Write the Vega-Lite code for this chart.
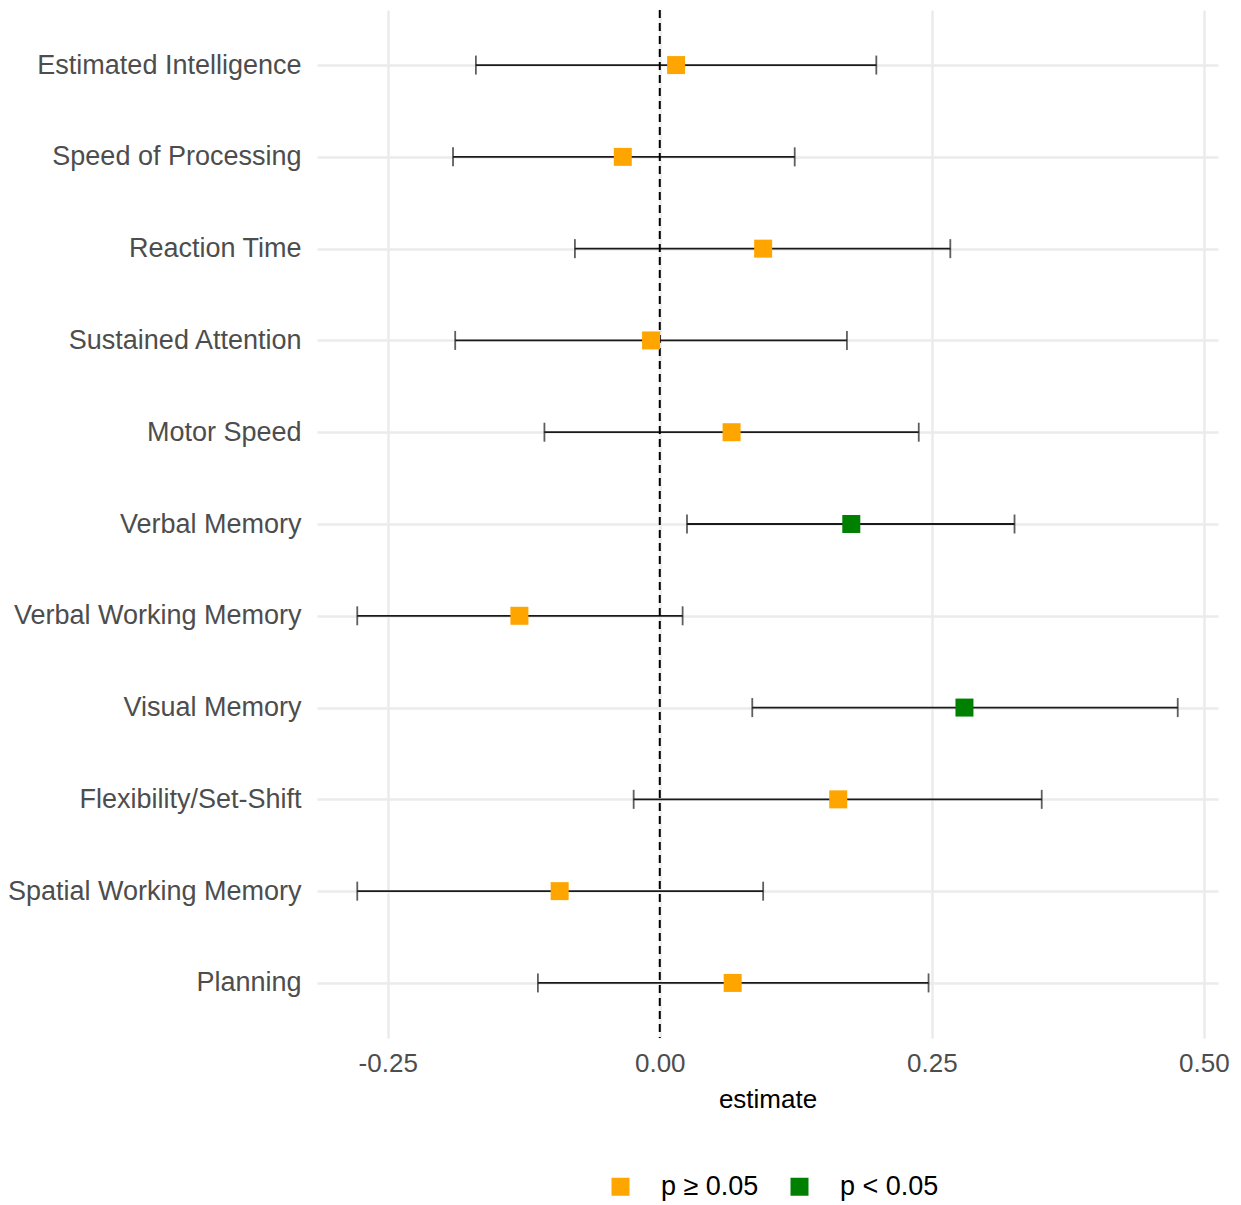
{
  "$schema": "https://vega.github.io/schema/vega-lite/v6.json",
  "width": 901,
  "height": 1028,
  "autosize": {"type": "none"},
  "padding": {"left": 317, "top": 10, "right": 23, "bottom": 167},
  "background": "white",
  "config": {
    "view": {"stroke": null},
    "font": "Liberation Sans"
  },
  "data": {
    "values": [
      {"label": "Estimated Intelligence", "est": 0.015, "lo": -0.169, "hi": 0.199, "sig": "p ≥ 0.05"},
      {"label": "Speed of Processing", "est": -0.034, "lo": -0.190, "hi": 0.124, "sig": "p ≥ 0.05"},
      {"label": "Reaction Time", "est": 0.095, "lo": -0.078, "hi": 0.267, "sig": "p ≥ 0.05"},
      {"label": "Sustained Attention", "est": -0.008, "lo": -0.188, "hi": 0.172, "sig": "p ≥ 0.05"},
      {"label": "Motor Speed", "est": 0.066, "lo": -0.106, "hi": 0.238, "sig": "p ≥ 0.05"},
      {"label": "Verbal Memory", "est": 0.176, "lo": 0.025, "hi": 0.326, "sig": "p < 0.05"},
      {"label": "Verbal Working Memory", "est": -0.129, "lo": -0.278, "hi": 0.021, "sig": "p ≥ 0.05"},
      {"label": "Visual Memory", "est": 0.280, "lo": 0.085, "hi": 0.476, "sig": "p < 0.05"},
      {"label": "Flexibility/Set-Shift", "est": 0.164, "lo": -0.024, "hi": 0.351, "sig": "p ≥ 0.05"},
      {"label": "Spatial Working Memory", "est": -0.092, "lo": -0.278, "hi": 0.095, "sig": "p ≥ 0.05"},
      {"label": "Planning", "est": 0.067, "lo": -0.112, "hi": 0.247, "sig": "p ≥ 0.05"}
    ]
  },
  "encoding": {
    "y": {
      "field": "label",
      "type": "nominal",
      "sort": null,
      "scale": {"type": "point", "padding": 0.6},
      "axis": {
        "title": null,
        "domain": false,
        "ticks": false,
        "grid": true,
        "gridColor": "#EBEBEB",
        "gridWidth": 2.5,
        "labelFontSize": 27,
        "labelColor": "#4D4D4D",
        "labelPadding": 16,
        "labelLimit": 400,
        "labelFont": "Liberation Sans"
      }
    }
  },
  "layer": [
    {
      "mark": {"type": "rule", "color": "#1A1A1A", "strokeWidth": 1.8},
      "encoding": {
        "x": {
          "field": "lo",
          "type": "quantitative",
          "scale": {"domain": [-0.315, 0.513], "nice": false, "zero": false},
          "axis": {
            "title": "estimate",
            "titleFontSize": 26,
            "titleFontWeight": "normal",
            "titleColor": "#000000",
            "titlePadding": 10,
            "values": [-0.25, 0, 0.25, 0.5],
            "labelExpr": "datum.value < 0 ? '-' + format(-datum.value, '.2f') : format(datum.value, '.2f')",
            "labelFontSize": 26,
            "labelColor": "#4D4D4D",
            "labelPadding": 12,
            "domain": false,
            "ticks": false,
            "grid": true,
            "gridColor": "#EBEBEB",
            "gridWidth": 2.5
          }
        },
        "x2": {"field": "hi"}
      }
    },
    {
      "mark": {"type": "tick", "color": "#1A1A1A", "thickness": 1.8, "size": 19, "orient": "vertical"},
      "encoding": {"x": {"field": "lo", "type": "quantitative"}}
    },
    {
      "mark": {"type": "tick", "color": "#1A1A1A", "thickness": 1.8, "size": 19, "orient": "vertical"},
      "encoding": {"x": {"field": "hi", "type": "quantitative"}}
    },
    {
      "data": {"values": [{"zero": 0}]},
      "mark": {"type": "rule", "color": "#000000", "strokeWidth": 2, "strokeDash": [8, 5]},
      "encoding": {"x": {"field": "zero", "type": "quantitative"}, "y": null}
    },
    {
      "mark": {"type": "square", "size": 324, "opacity": 1, "filled": true},
      "encoding": {
        "x": {"field": "est", "type": "quantitative"},
        "color": {
          "field": "sig",
          "type": "nominal",
          "scale": {"domain": ["p ≥ 0.05", "p < 0.05"], "range": ["#FFA500", "#008000"]},
          "legend": {
            "title": null,
            "orient": "none",
            "direction": "horizontal",
            "legendX": 290,
            "legendY": 1163,
            "symbolType": "square",
            "symbolSize": 324,
            "symbolOpacity": 1,
            "symbolStrokeWidth": 0,
            "labelFontSize": 27,
            "labelColor": "#000000",
            "labelOffset": 27,
            "columnPadding": 27,
            "symbolOffset": 0
          }
        }
      }
    }
  ]
}
